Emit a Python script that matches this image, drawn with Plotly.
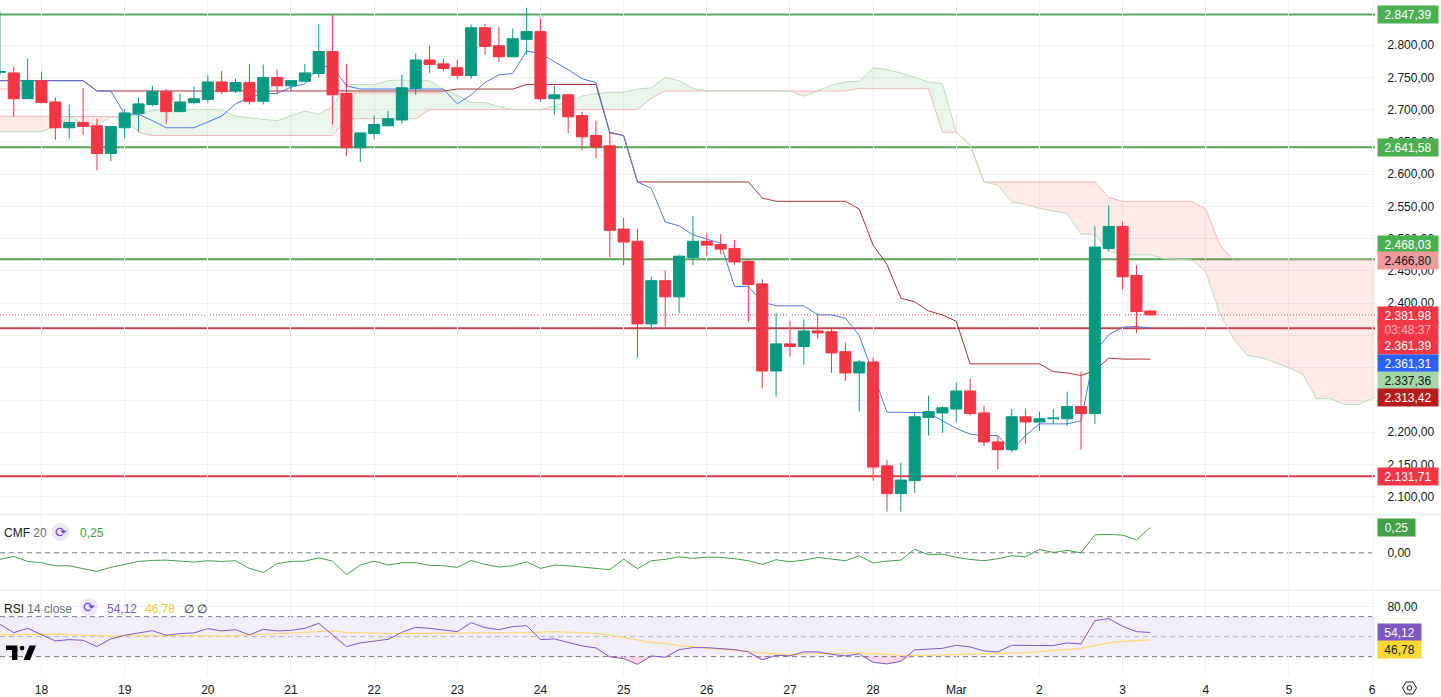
import plotly.graph_objects as go

# ---------- chart values ----------
DAY_TICKS = list(range(0, 102, 6))
DAY_LABELS = ["18", "19", "20", "21", "22", "23", "24", "25", "26", "27", "28",
              "Mar", "2", "3", "4", "5", "6"]

OPEN = [2758, 2757, 2717, 2745, 2712, 2672, 2680, 2675, 2632, 2672,
        2694, 2708, 2728, 2697, 2711, 2716, 2743, 2729, 2742, 2713,
        2750, 2737, 2744, 2756, 2790, 2725, 2641, 2663, 2675, 2684,
        2733, 2777, 2771, 2765, 2753, 2827, 2799, 2782, 2809, 2821,
        2717, 2723, 2691, 2660, 2644, 2515, 2496, 2368, 2435, 2410,
        2471, 2496, 2491, 2485, 2465, 2430, 2295, 2337, 2333, 2357,
        2356, 2325, 2292, 2309, 2148, 2105, 2125, 2223, 2230, 2236,
        2264, 2230, 2185, 2173, 2224, 2216, 2221, 2221, 2240, 2229,
        2485, 2519, 2443, 2388]
HIGH = [2852, 2767, 2779, 2759, 2719, 2708, 2734, 2686, 2674, 2701,
        2719, 2737, 2732, 2725, 2736, 2753, 2760, 2748, 2771, 2770,
        2762, 2745, 2771, 2833, 2847, 2771, 2664, 2691, 2698, 2754,
        2787, 2799, 2779, 2777, 2832, 2833, 2829, 2826, 2858, 2841,
        2737, 2723, 2697, 2683, 2666, 2532, 2515, 2441, 2451, 2474,
        2535, 2508, 2507, 2498, 2468, 2437, 2385, 2373, 2375, 2384,
        2362, 2339, 2312, 2316, 2157, 2153, 2230, 2257, 2241, 2277,
        2283, 2241, 2195, 2236, 2236, 2232, 2236, 2263, 2294, 2519,
        2552, 2526, 2459, 2390]
LOW = [2754, 2689, 2717, 2710, 2653, 2655, 2661, 2606, 2620, 2656,
       2666, 2705, 2678, 2696, 2708, 2711, 2724, 2726, 2708, 2708,
       2724, 2729, 2743, 2750, 2677, 2628, 2619, 2654, 2674, 2678,
       2723, 2757, 2760, 2747, 2748, 2785, 2774, 2782, 2785, 2712,
       2692, 2664, 2637, 2625, 2471, 2459, 2316, 2359, 2364, 2385,
       2459, 2473, 2476, 2459, 2371, 2268, 2255, 2317, 2305, 2345,
       2292, 2280, 2232, 2125, 2077, 2077, 2106, 2195, 2199, 2215,
       2226, 2179, 2143, 2170, 2182, 2202, 2213, 2210, 2173, 2213,
       2481, 2421, 2354, 2381]
CLOSE = [2759, 2717, 2745, 2711, 2672, 2680, 2674, 2632, 2674, 2695,
         2709, 2728, 2697, 2712, 2717, 2743, 2728, 2742, 2713, 2750,
         2737, 2745, 2757, 2790, 2723, 2641, 2664, 2677, 2686, 2734,
         2777, 2770, 2764, 2753, 2827, 2798, 2782, 2810, 2821, 2717,
         2723, 2689, 2658, 2642, 2513, 2495, 2368, 2435, 2410, 2473,
         2496, 2490, 2484, 2464, 2429, 2295, 2337, 2333, 2357, 2354,
         2323, 2292, 2309, 2146, 2105, 2126, 2224, 2232, 2238, 2264,
         2229, 2185, 2173, 2224, 2216, 2221, 2222, 2240, 2229, 2487,
         2519, 2441, 2387, 2381.98]

CONVERSION = [2745, 2745, 2745, 2745, 2745, 2745, 2745, 2729, 2729, 2693,
              2693, 2683, 2672, 2672, 2672, 2681, 2690, 2709, 2719, 2725,
              2725, 2735, 2740, 2768, 2766, 2737, 2732, 2732, 2732, 2732,
              2732, 2732, 2732, 2709, 2723, 2742, 2754, 2756, 2791, 2787,
              2775, 2762, 2748, 2742, 2665, 2660, 2588, 2578, 2526, 2520,
              2506, 2499, 2493, 2426, 2426, 2402, 2396, 2396, 2396, 2382,
              2382, 2377, 2350, 2291, 2231, 2231, 2230, 2230, 2218, 2206,
              2197, 2195, 2195, 2171, 2195, 2213, 2213, 2213, 2218, 2325,
              2351, 2363, 2364, 2361.31]
BASE = [2745, 2745, 2745, 2745, 2745, 2745, 2745, 2729, 2729, 2729,
        2729, 2729, 2729, 2729, 2729, 2729, 2729, 2729, 2729, 2729,
        2729, 2729, 2729, 2729, 2729, 2729, 2729, 2729, 2729, 2729,
        2729, 2729, 2729, 2732, 2732, 2732, 2732, 2732, 2739, 2739,
        2739, 2739, 2739, 2739, 2664, 2660, 2588, 2588, 2588, 2588,
        2588, 2588, 2588, 2588, 2588, 2563, 2558, 2558, 2558, 2558,
        2558, 2558, 2546, 2490, 2460, 2408, 2402, 2388, 2382, 2372,
        2306, 2306, 2306, 2306, 2306, 2306, 2294, 2292, 2288, 2296,
        2315, 2313.42, 2313.42, 2313.42]
SPAN_A = [2666, 2666, 2666, 2666, 2674, 2689, 2679, 2677, 2688, 2689,
          2692, 2699, 2700, 2700, 2700, 2700, 2700, 2690, 2687, 2685,
          2683, 2691, 2698, 2693, 2705, 2739, 2739, 2739, 2745, 2746,
          2745, 2745, 2731, 2723, 2711, 2711, 2705, 2700, 2700, 2700,
          2706, 2712, 2721, 2725, 2727, 2727, 2732, 2734, 2750, 2745,
          2733, 2729, 2729, 2729, 2729, 2729, 2729, 2729, 2721, 2729,
          2738, 2743, 2744, 2765, 2762, 2757, 2750, 2743, 2740, 2665,
          2645, 2588, 2583, 2557, 2553, 2547, 2543, 2539, 2507, 2507,
          2480, 2475, 2475, 2475, 2469, 2468, 2467, 2449, 2385, 2345,
          2319, 2316, 2308, 2300, 2290, 2252, 2252, 2243, 2243, 2252,
          2258]
SPAN_B = [2690, 2690, 2690, 2690, 2690, 2690, 2690, 2690, 2690, 2689,
          2665, 2660, 2660, 2660, 2660, 2660, 2660, 2660, 2660, 2660,
          2660, 2660, 2660, 2660, 2660, 2686, 2686, 2686, 2686, 2686,
          2686, 2700, 2700, 2700, 2700, 2700, 2700, 2700, 2700, 2700,
          2700, 2700, 2700, 2700, 2700, 2700, 2700, 2718, 2729, 2729,
          2729, 2729, 2729, 2729, 2729, 2729, 2729, 2729, 2729, 2729,
          2729, 2729, 2733, 2733, 2733, 2733, 2733, 2733, 2665, 2665,
          2645, 2588, 2588, 2588, 2588, 2588, 2588, 2588, 2588, 2588,
          2564, 2558, 2558, 2558, 2558, 2558, 2558, 2546, 2491, 2466.8,
          2466.8, 2466.8, 2466.8, 2466.8, 2466.8, 2466.8, 2466.8, 2466.8,
          2466.8, 2466.8, 2466.8]
PALE_BARS = [-3, -2, -1, 0, None, 22, 23, 24, 25, 26, 27, 28, 29]
PALE_LINE = [2732, 2732, 2732, 2732, None, 2726, 2726, 2726, 2726, 2726, 2726, 2726, 2726]

CMF = [-0.066, -0.036, -0.086, -0.099, -0.129, -0.129, -0.158, -0.185, -0.145, -0.112,
       -0.086, -0.076, -0.073, -0.083, -0.092, -0.079, -0.086, -0.079, -0.155, -0.195,
       -0.109, -0.086, -0.083, -0.050, -0.083, -0.218, -0.122, -0.083, -0.122, -0.099,
       -0.099, -0.125, -0.129, -0.145, -0.076, -0.116, -0.142, -0.129, -0.089, -0.155,
       -0.122, -0.129, -0.142, -0.158, -0.168, -0.063, -0.158, -0.079, -0.066, -0.040,
       -0.056, -0.043, -0.046, -0.059, -0.079, -0.116, -0.069, -0.089, -0.073, -0.046,
       -0.063, -0.079, -0.030, -0.102, -0.083, -0.073, 0.036, -0.020, -0.013, -0.046,
       -0.066, -0.079, -0.059, -0.030, -0.040, 0.033, 0.003, 0.023, 0.0, 0.178,
       0.182, 0.175, 0.129, 0.25]
RSI = [62.3, 54, 58.3, 52.3, 45.7, 47, 46.3, 40, 47.7, 51.3,
       53.3, 56, 51.3, 53, 53.7, 58, 55.7, 57, 51.7, 57.3,
       55.7, 56.3, 58.3, 63.3, 51.7, 40, 43.7, 45.7, 47.3, 54.3,
       59.3, 58.3, 57, 55, 64, 59, 57, 60, 61, 47,
       47.7, 44, 40.7, 38.7, 29.7, 28, 22.3, 30.7, 29.3, 37,
       39, 39, 38.3, 37, 34.7, 26.7, 31.3, 30.7, 34.7, 34.7,
       32.3, 30.7, 32.7, 24.3, 22.7, 25.3, 36.7, 37.3, 38.3, 41.3,
       39.7, 35.7, 34.7, 41.3, 41, 41, 41, 43.7, 42.7, 66,
       68, 60.3, 55, 54.12]
RSI_MA = [51.7, 52, 52.3, 52.7, 52.5, 52, 51.3, 51, 50.8, 50.7,
          50.8, 51, 51.3, 51, 50.7, 50.3, 50.5, 51, 51.7, 52.5,
          53.3, 54, 54.7, 55.7, 55.7, 54.3, 53.7, 53.3, 53, 53,
          53, 53, 53.2, 53.5, 53.8, 53.6, 53.8, 53.9, 54, 54.8,
          55, 54.5, 54, 53.3, 51.5, 49.3, 47, 44.3, 43, 41,
          40, 38.3, 37.5, 36.3, 35, 33.3, 32.7, 32.3, 32.8, 33.3,
          33.5, 33.6, 33.7, 32.7, 31.7, 31.3, 31, 31.2, 31.5, 32,
          32.5, 33, 33.2, 33.3, 34, 35, 36, 37, 38.3, 41,
          43.7, 45.3, 46.2, 46.78]

GREEN_LEVELS = [2847.39, 2641.58, 2468.03]
RED_LEVELS = [2361.39, 2131.71]
LAST_PRICE = 2381.98
COUNTDOWN = "03:48:37"
FIRST_BAR = -3

# ---------- layout geometry ----------
W, H = 1441, 697
PLOT_W, PLOT_H = 1375, 677
PRICE_BOTTOM, CMF_BOTTOM = 516, 592
X_RANGE = [-2.994, 96.21]
PRICE_RANGE = [2072.6, 2870]
CMF_RANGE = [-0.372, 0.38]
RSI_RANGE = [11.6, 96.4]

UP, DOWN = "#089981", "#f23645"
GRID = "#f0f1f5"
TEXT = "#131722"
PURPLE = "#7e57c2"
YELLOW = "#fdd835"
CMF_GREEN = "#43a047"
FONT = "Liberation Sans"


def px(x):
    return x / PLOT_W


def py(y):
    return (PLOT_H - y) / PLOT_H


def bars(series):
    return list(range(FIRST_BAR, FIRST_BAR + len(series)))


def path(points):
    return "M" + " L".join(f"{px(a):.5f},{py(b):.5f}" for a, b in points) + " Z"


fig = go.Figure()


# Cloud: one filled pair per run where the same span is on top.
def cloud_runs(a, b):
    xs = bars(a)
    runs, cur_x, cur_a, cur_b, sign = [], [], [], [], None
    for k, x in enumerate(xs):
        s = 1 if a[k] >= b[k] else -1
        if sign is not None and s != sign:
            d0, d1 = a[k - 1] - b[k - 1], a[k] - b[k]
            t = d0 / (d0 - d1)
            xc = xs[k - 1] + t
            yc = a[k - 1] + t * (a[k] - a[k - 1])
            cur_x.append(xc); cur_a.append(yc); cur_b.append(yc)
            runs.append((sign, cur_x, cur_a, cur_b))
            cur_x, cur_a, cur_b = [xc], [yc], [yc]
        cur_x.append(x); cur_a.append(a[k]); cur_b.append(b[k])
        sign = s
    runs.append((sign, cur_x, cur_a, cur_b))
    return runs


for sign, rx, ra, rb in cloud_runs(SPAN_A, SPAN_B):
    fig.add_trace(go.Scatter(x=rx, y=rb, mode="lines", line=dict(color="#f0b8b8", width=1),
                             showlegend=False, hoverinfo="skip"))
    fig.add_trace(go.Scatter(x=rx, y=ra, mode="lines", line=dict(color="#bedcbf", width=1),
                             fill="tonexty",
                             fillcolor="rgba(67,160,71,0.10)" if sign > 0 else "rgba(244,67,54,0.11)",
                             showlegend=False, hoverinfo="skip"))

fig.add_trace(go.Scatter(x=PALE_BARS, y=PALE_LINE, mode="lines", line=dict(color="#eeb0b0", width=1),
                         connectgaps=False, showlegend=False, hoverinfo="skip"))
fig.add_trace(go.Scatter(x=bars(BASE), y=BASE, mode="lines", line=dict(color="#a8323c", width=1),
                         showlegend=False, hoverinfo="skip"))
fig.add_trace(go.Scatter(x=bars(CONVERSION), y=CONVERSION, mode="lines", line=dict(color="#4f77e8", width=1),
                         showlegend=False, hoverinfo="skip"))

# Candles live on an overlaying axis so they sit above the line layer.
fig.add_trace(go.Candlestick(
    x=bars(CLOSE), open=OPEN, high=HIGH, low=LOW, close=CLOSE, yaxis="y4",
    increasing=dict(line=dict(color=UP, width=1), fillcolor=UP),
    decreasing=dict(line=dict(color=DOWN, width=1), fillcolor=DOWN),
    whiskerwidth=0, showlegend=False, hoverinfo="skip"))

fig.add_trace(go.Scatter(x=bars(CMF), y=CMF, yaxis="y2", mode="lines",
                         line=dict(color=CMF_GREEN, width=1), showlegend=False, hoverinfo="skip"))

RSI_FLOOR = [30 for _ in RSI]
fig.add_trace(go.Scatter(x=bars(RSI), y=RSI_FLOOR, yaxis="y3", mode="lines", line=dict(width=0),
                         showlegend=False, hoverinfo="skip"))
fig.add_trace(go.Scatter(x=bars(RSI), y=[min(v, 30) for v in RSI], yaxis="y3", mode="lines", line=dict(width=0),
                         fill="tonexty", fillcolor="rgba(242,54,120,0.2)", showlegend=False, hoverinfo="skip"))
fig.add_trace(go.Scatter(x=bars(RSI_MA), y=RSI_MA, yaxis="y3", mode="lines",
                         line=dict(color="#fbd977", width=1.2), showlegend=False, hoverinfo="skip"))
fig.add_trace(go.Scatter(x=bars(RSI), y=RSI, yaxis="y3", mode="lines",
                         line=dict(color=PURPLE, width=1), showlegend=False, hoverinfo="skip"))

shapes = []


def hline(value, yref, color, width, dash="solid"):
    shapes.append(dict(type="line", xref="x", yref=yref, x0=X_RANGE[0], x1=X_RANGE[1], y0=value, y1=value,
                       line=dict(color=color, width=width, dash=dash), layer="below"))


for v in GREEN_LEVELS:
    hline(v, "y", "#54a75a", 2)
hline(RED_LEVELS[0], "y", "#c8414f", 2)
hline(RED_LEVELS[1], "y", "#e8384a", 2)
hline(LAST_PRICE, "y", "#d9505c", 1, "1px,2px")
hline(0, "y2", "#787b86", 1, "5px,4px")

shapes.append(dict(type="rect", xref="x", yref="y3", x0=X_RANGE[0], x1=X_RANGE[1], y0=30, y1=70,
                   fillcolor="rgba(126,87,194,0.10)", line=dict(width=0), layer="below"))
hline(70, "y3", "#787b86", 1, "5px,4px")
hline(50, "y3", "rgba(120,123,134,0.5)", 1, "5px,4px")
hline(30, "y3", "#787b86", 1, "5px,4px")

# Pane separators
for y in (PRICE_BOTTOM, CMF_BOTTOM):
    shapes.append(dict(type="line", xref="paper", yref="paper", x0=0, x1=W / PLOT_W, y0=py(y), y1=py(y),
                       line=dict(color="#e8e9ee", width=1)))

# Legend sync icons
for cx, cy in ((60.7, 533.5), (89, 609)):
    shapes.append(dict(type="circle", xref="paper", yref="paper", x0=px(cx - 9), x1=px(cx + 9),
                       y0=py(cy + 9), y1=py(cy - 9), fillcolor="#ede7f6", line=dict(width=0)))

# Logo
shapes.append(dict(type="path", xref="paper", yref="paper", fillcolor="#000000", line=dict(width=0),
                   path=path([(6, 647.3), (17.5, 647.3), (17.5, 662), (12, 662), (12, 652), (6, 652)])))
shapes.append(dict(type="path", xref="paper", yref="paper", fillcolor="#000000", line=dict(width=0),
                   path=path([(29.5, 647.3), (36, 647.3), (30, 662), (23.5, 662)])))
shapes.append(dict(type="circle", xref="paper", yref="paper", fillcolor="#000000", line=dict(width=0),
                   x0=px(19.6), x1=px(24.4), y0=py(652.4), y1=py(647.6)))

# Settings icon, bottom right
shapes.append(dict(type="path", xref="paper", yref="paper", fillcolor="rgba(0,0,0,0)",
                   line=dict(color="#131722", width=1),
                   path=path([(1402.5, 690), (1406, 684), (1413, 684), (1416.5, 690), (1413, 696), (1406, 696)])))
shapes.append(dict(type="circle", xref="paper", yref="paper", fillcolor="rgba(0,0,0,0)",
                   line=dict(color="#131722", width=1),
                   x0=px(1407.2), x1=px(1411.8), y0=py(692.3), y1=py(687.7)))

annotations = []


def badge(text, y, yref, bg, fg, shift=0, left=1376.5, width=60, height=17):
    annotations.append(dict(text=text, xref="paper", yref=yref, x=px(left), y=y, xanchor="left", yanchor="middle",
                            yshift=shift, showarrow=False, bgcolor=bg, width=width, height=height, borderpad=0,
                            align="center", font=dict(family=FONT, size=12, color=fg)))


badge("2.847,39", 2847.39, "y", "#4caf50", "#ffffff")
badge("2.641,58", 2641.58, "y", "#4caf50", "#ffffff", 0)
badge("2.468,03", 2468.03, "y", "#4caf50", "#ffffff", 14.5)
badge("2.466,80", 2466.80, "y", "#ef9a9a", "#131722", -0.5)
badge("2.381,98", 2381.98, "y", "#f23645", "#ffffff", -1)
badge(COUNTDOWN, 2361.39, "y", "#f23645", "#fbb4ba", -1.5)
badge("2.361,39", 2361.39, "y", "#f23645", "#ffffff", -17.5)
badge("2.361,31", 2361.31, "y", "#2962ff", "#ffffff", -35.5)
badge("2.337,36", 2337.36, "y", "#a5d6a7", "#131722", -37)
badge("2.313,42", 2313.42, "y", "#b71c1c", "#ffffff", -38.5)
badge("2.131,71", 2131.71, "y", "#f23645", "#ffffff", -0.5)
badge("0,25", 0.25, "y2", CMF_GREEN, "#ffffff", width=37)
badge("54,12", 54.12, "y3", PURPLE, "#ffffff", width=43)
badge("46,78", 46.78, "y3", YELLOW, "#131722", -10, width=43)


def legend(text, x, y, size=12):
    annotations.append(dict(text=text, xref="paper", yref="paper", x=px(x), y=py(y), xanchor="left",
                            yanchor="middle", showarrow=False, borderpad=0, align="left",
                            font=dict(family=FONT, size=size, color=TEXT)))


GREY = '<span style="color:#6a6d78">%s</span>'
legend("CMF " + GREY % "20", 3, 535)
legend(f'<span style="color:{CMF_GREEN}">0,25</span>', 79, 535)
legend("RSI " + GREY % "14 close", 3, 610.5)
legend(f'<span style="color:{PURPLE}">54,12</span>', 106, 610.5)
legend('<span style="color:#f5c93f">46,78</span>', 144, 610.5)
legend("∅ ∅", 183, 610.5)
for cx, cy in ((60.7, 533.5), (89, 609)):
    annotations.append(dict(text="⟳", xref="paper", yref="paper", x=px(cx), y=py(cy), xanchor="center",
                            yanchor="middle", showarrow=False, borderpad=0,
                            font=dict(family="DejaVu Sans", size=14, color="#6b3fe4")))

axis_font = dict(family=FONT, size=12, color=TEXT)
y_common = dict(side="right", anchor="x", ticks="outside", ticklen=9, tickcolor="rgba(0,0,0,0)",
                tickfont=axis_font, zeroline=False, showline=False, fixedrange=True)
PRICE_TICKS = [2100 + 50 * k for k in range(15)]

fig.update_layout(
    width=W, height=H,
    margin=dict(l=0, r=W - PLOT_W, t=0, b=H - PLOT_H, pad=0),
    paper_bgcolor="#ffffff", plot_bgcolor="#ffffff",
    separators=",.",
    boxgap=0.2,
    boxgroupgap=0,
    showlegend=False,
    shapes=shapes,
    annotations=annotations,
    xaxis=dict(range=X_RANGE, anchor="y3", tickmode="array", tickvals=DAY_TICKS, ticktext=DAY_LABELS,
               ticks="outside", ticklen=4, tickcolor="rgba(0,0,0,0)", tickfont=axis_font, showgrid=True,
               gridcolor=GRID, gridwidth=1, zeroline=False, showline=False,
               rangeslider=dict(visible=False), fixedrange=True),
    yaxis=dict(domain=[py(PRICE_BOTTOM), 1], range=PRICE_RANGE, tickmode="array", tickvals=PRICE_TICKS,
               tickformat=",.2f", showgrid=True, gridcolor=GRID, **y_common),
    yaxis2=dict(domain=[py(CMF_BOTTOM), py(PRICE_BOTTOM)], range=CMF_RANGE, tickmode="array", tickvals=[0],
                ticktext=["0,00"], showgrid=False, **y_common),
    yaxis3=dict(domain=[0, py(CMF_BOTTOM)], range=RSI_RANGE, tickmode="array", tickvals=[40, 80],
                ticktext=["", "80,00"], showgrid=True, gridcolor=GRID, **y_common),
    yaxis4=dict(overlaying="y", range=PRICE_RANGE, visible=False, side="right", anchor="x", fixedrange=True),
)

fig.write_html("out.html", config=dict(displayModeBar=False, staticPlot=True),
               post_script="document.body.style.margin='0';document.body.style.overflow='hidden';")
